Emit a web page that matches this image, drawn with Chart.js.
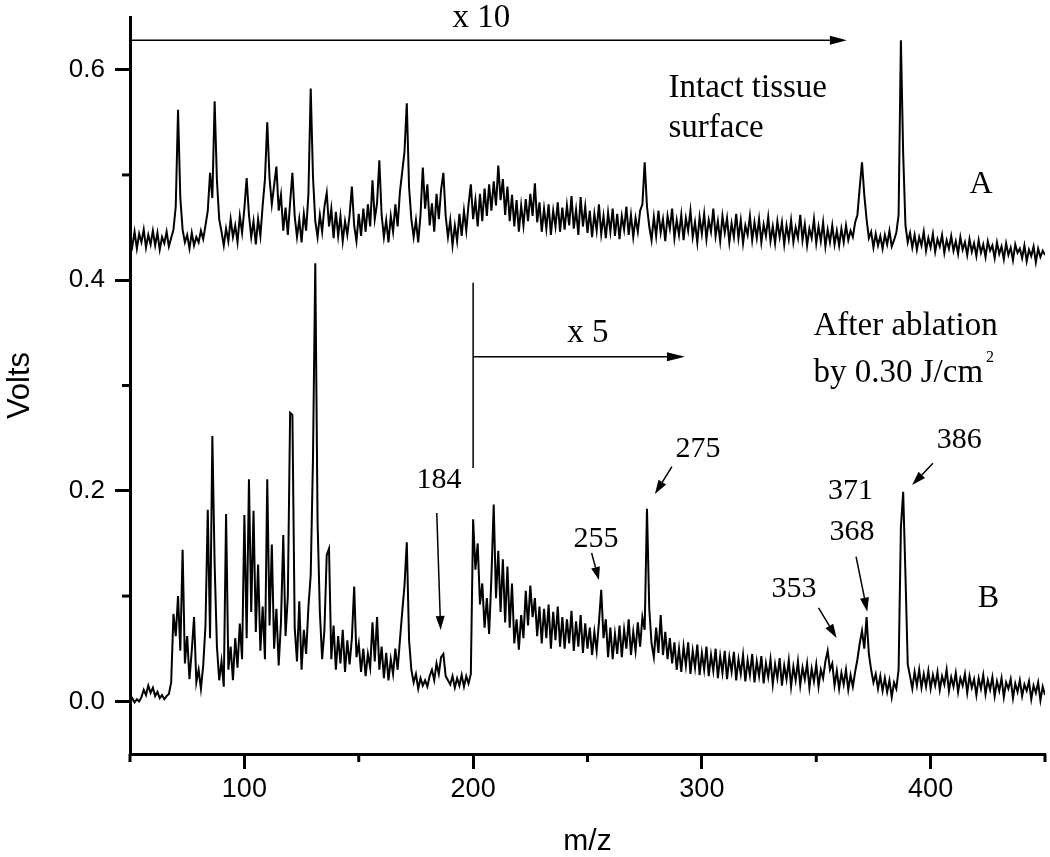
<!DOCTYPE html>
<html>
<head>
<meta charset="utf-8">
<script src="https://cdn.jsdelivr.net/npm/chart.js@4.4.1/dist/chart.umd.min.js"></script>
<style>
  html, body { margin: 0; padding: 0; background: #fff; }
  #caixa { width: 1050px; height: 857px; }
</style>
</head>
<body>
<div id="caixa"><canvas id="can-espectro"></canvas></div>
<script>
// ESPECTRO DE MASSA (A = superficie intacta x10, B = apos ablacao)

// um valor por unidade de m/z, comecando em m/z 50
const mzInicio = 50;

const tracoA = [
  0.441, 0.432, 0.446, 0.430, 0.444, 0.436, 0.448, 0.431, 0.443, 0.434, // 50
  0.447, 0.433, 0.445, 0.429, 0.441, 0.435, 0.446, 0.432, 0.440, 0.448, // 60
  0.470, 0.562, 0.478, 0.448, 0.436, 0.443, 0.430, 0.445, 0.433, 0.441, // 70
  0.436, 0.447, 0.439, 0.452, 0.466, 0.502, 0.478, 0.570, 0.495, 0.458, // 80
  0.446, 0.433, 0.449, 0.437, 0.458, 0.441, 0.452, 0.436, 0.461, 0.445, // 90
  0.468, 0.497, 0.462, 0.441, 0.456, 0.434, 0.458, 0.442, 0.471, 0.496, // 100
  0.550, 0.497, 0.472, 0.490, 0.508, 0.466, 0.481, 0.447, 0.469, 0.443, // 110
  0.474, 0.502, 0.461, 0.441, 0.458, 0.436, 0.463, 0.447, 0.482, 0.582, // 120
  0.498, 0.456, 0.441, 0.462, 0.446, 0.470, 0.483, 0.451, 0.468, 0.440, // 130
  0.465, 0.442, 0.461, 0.437, 0.456, 0.443, 0.462, 0.489, 0.452, 0.437, // 140
  0.463, 0.442, 0.468, 0.446, 0.472, 0.451, 0.495, 0.458, 0.473, 0.514, // 150
  0.462, 0.441, 0.457, 0.436, 0.461, 0.446, 0.472, 0.451, 0.484, 0.503, // 160
  0.522, 0.568, 0.488, 0.458, 0.441, 0.457, 0.436, 0.462, 0.507, 0.468, // 170
  0.491, 0.452, 0.473, 0.446, 0.482, 0.458, 0.486, 0.502, 0.461, 0.441, // 180
  0.457, 0.433, 0.452, 0.437, 0.463, 0.442, 0.466, 0.447, 0.472, 0.491, // 190
  0.458, 0.476, 0.451, 0.482, 0.456, 0.487, 0.461, 0.491, 0.466, 0.494, // 200
  0.471, 0.509, 0.476, 0.496, 0.462, 0.489, 0.456, 0.481, 0.451, 0.476, // 210
  0.446, 0.471, 0.452, 0.477, 0.456, 0.482, 0.461, 0.492, 0.455, 0.474, // 220
  0.446, 0.468, 0.449, 0.472, 0.443, 0.466, 0.451, 0.474, 0.446, 0.469, // 230
  0.448, 0.471, 0.452, 0.480, 0.449, 0.467, 0.443, 0.479, 0.451, 0.470, // 240
  0.445, 0.466, 0.441, 0.463, 0.447, 0.472, 0.444, 0.461, 0.440, 0.464, // 250
  0.446, 0.468, 0.442, 0.463, 0.439, 0.461, 0.448, 0.470, 0.443, 0.462, // 260
  0.441, 0.459, 0.446, 0.466, 0.472, 0.512, 0.470, 0.451, 0.438, 0.460, // 270
  0.442, 0.466, 0.445, 0.458, 0.437, 0.461, 0.449, 0.468, 0.440, 0.457, // 280
  0.443, 0.462, 0.438, 0.459, 0.447, 0.466, 0.441, 0.455, 0.436, 0.460, // 290
  0.444, 0.463, 0.439, 0.457, 0.446, 0.468, 0.442, 0.456, 0.437, 0.461, // 300
  0.445, 0.459, 0.436, 0.454, 0.441, 0.463, 0.440, 0.457, 0.435, 0.452, // 310
  0.443, 0.461, 0.438, 0.455, 0.440, 0.458, 0.436, 0.453, 0.442, 0.460, // 320
  0.437, 0.451, 0.435, 0.456, 0.441, 0.455, 0.434, 0.452, 0.439, 0.457, // 330
  0.436, 0.450, 0.440, 0.462, 0.438, 0.453, 0.433, 0.449, 0.440, 0.458, // 340
  0.435, 0.451, 0.437, 0.455, 0.432, 0.448, 0.436, 0.452, 0.434, 0.447, // 350
  0.433, 0.449, 0.436, 0.452, 0.438, 0.447, 0.441, 0.455, 0.462, 0.488, // 360
  0.512, 0.481, 0.458, 0.440, 0.446, 0.431, 0.444, 0.433, 0.442, 0.430, // 370
  0.443, 0.434, 0.447, 0.432, 0.438, 0.445, 0.462, 0.628, 0.520, 0.452, // 380
  0.436, 0.445, 0.431, 0.443, 0.429, 0.441, 0.433, 0.446, 0.428, 0.440, // 390
  0.431, 0.444, 0.427, 0.439, 0.432, 0.443, 0.426, 0.438, 0.430, 0.442, // 400
  0.428, 0.437, 0.425, 0.441, 0.429, 0.436, 0.424, 0.439, 0.427, 0.435, // 410
  0.423, 0.438, 0.426, 0.434, 0.422, 0.437, 0.428, 0.433, 0.421, 0.436, // 420
  0.425, 0.432, 0.420, 0.435, 0.424, 0.431, 0.419, 0.434, 0.426, 0.430, // 430
  0.421, 0.433, 0.418, 0.429, 0.423, 0.432, 0.417, 0.430, 0.422, 0.428, // 440
  0.424                                                                  // 450
];

const tracoB = [
  0.000, 0.003, -0.001, 0.002, 0.000, 0.004, 0.011, 0.006, 0.015, 0.008, // 50
  0.013, 0.005, 0.009, 0.003, 0.006, 0.002, 0.005, 0.007, 0.018, 0.083, // 60
  0.062, 0.100, 0.048, 0.144, 0.036, 0.062, 0.021, 0.048, 0.080, 0.018, // 70
  0.030, 0.012, 0.034, 0.072, 0.182, 0.060, 0.252, 0.130, 0.052, 0.020, // 80
  0.038, 0.014, 0.178, 0.030, 0.052, 0.020, 0.060, 0.032, 0.074, 0.040, // 90
  0.177, 0.060, 0.211, 0.085, 0.181, 0.066, 0.130, 0.048, 0.090, 0.040, // 100
  0.211, 0.072, 0.149, 0.050, 0.088, 0.034, 0.075, 0.158, 0.062, 0.100, // 110
  0.274, 0.272, 0.070, 0.038, 0.095, 0.030, 0.068, 0.045, 0.090, 0.120, // 120
  0.232, 0.416, 0.170, 0.085, 0.040, 0.068, 0.139, 0.145, 0.040, 0.072, // 130
  0.030, 0.062, 0.036, 0.068, 0.028, 0.058, 0.035, 0.060, 0.109, 0.042, // 140
  0.055, 0.028, 0.050, 0.024, 0.045, 0.032, 0.075, 0.038, 0.080, 0.030, // 150
  0.052, 0.022, 0.046, 0.020, 0.040, 0.026, 0.050, 0.030, 0.058, 0.085, // 160
  0.110, 0.151, 0.058, 0.030, 0.018, 0.026, 0.012, 0.022, 0.015, 0.020, // 170
  0.014, 0.024, 0.030, 0.020, 0.036, 0.026, 0.042, 0.045, 0.024, 0.020, // 180
  0.016, 0.024, 0.013, 0.022, 0.015, 0.025, 0.014, 0.024, 0.017, 0.026, // 190
  0.173, 0.125, 0.150, 0.092, 0.112, 0.070, 0.098, 0.064, 0.118, 0.187, // 200
  0.098, 0.143, 0.085, 0.135, 0.075, 0.128, 0.070, 0.112, 0.055, 0.078, // 210
  0.049, 0.082, 0.060, 0.105, 0.072, 0.110, 0.080, 0.098, 0.062, 0.090, // 220
  0.055, 0.088, 0.060, 0.092, 0.050, 0.085, 0.058, 0.090, 0.052, 0.080, // 230
  0.050, 0.078, 0.055, 0.086, 0.048, 0.076, 0.052, 0.082, 0.046, 0.074, // 240
  0.050, 0.070, 0.044, 0.066, 0.048, 0.075, 0.106, 0.060, 0.078, 0.042, // 250
  0.070, 0.040, 0.064, 0.045, 0.072, 0.042, 0.068, 0.050, 0.078, 0.044, // 260
  0.066, 0.048, 0.075, 0.052, 0.080, 0.068, 0.183, 0.088, 0.055, 0.042, // 270
  0.070, 0.046, 0.082, 0.044, 0.066, 0.040, 0.060, 0.036, 0.056, 0.030, // 280
  0.050, 0.028, 0.052, 0.034, 0.056, 0.026, 0.048, 0.032, 0.054, 0.025, // 290
  0.046, 0.030, 0.052, 0.024, 0.044, 0.029, 0.050, 0.022, 0.043, 0.027, // 300
  0.048, 0.021, 0.042, 0.028, 0.047, 0.020, 0.040, 0.026, 0.044, 0.019, // 310
  0.039, 0.025, 0.045, 0.018, 0.038, 0.024, 0.043, 0.017, 0.036, 0.023, // 320
  0.040, 0.016, 0.035, 0.022, 0.041, 0.015, 0.034, 0.021, 0.039, 0.014, // 330
  0.033, 0.020, 0.038, 0.015, 0.032, 0.021, 0.036, 0.013, 0.031, 0.019, // 340
  0.035, 0.014, 0.030, 0.022, 0.038, 0.048, 0.030, 0.036, 0.015, 0.029, // 350
  0.012, 0.027, 0.016, 0.030, 0.011, 0.025, 0.014, 0.028, 0.040, 0.055, // 360
  0.067, 0.050, 0.080, 0.045, 0.030, 0.018, 0.026, 0.012, 0.024, 0.010, // 370
  0.022, 0.009, 0.020, 0.004, 0.018, 0.012, 0.030, 0.165, 0.199, 0.120, // 380
  0.035, 0.024, 0.012, 0.028, 0.015, 0.030, 0.013, 0.026, 0.014, 0.029, // 390
  0.012, 0.025, 0.015, 0.028, 0.011, 0.024, 0.016, 0.030, 0.010, 0.023, // 400
  0.014, 0.027, 0.009, 0.022, 0.015, 0.026, 0.008, 0.024, 0.013, 0.021, // 410
  0.006, 0.022, 0.012, 0.025, 0.007, 0.020, 0.011, 0.023, 0.005, 0.019, // 420
  0.010, 0.022, 0.004, 0.018, 0.012, 0.021, 0.003, 0.017, 0.009, 0.020, // 430
  0.005, 0.016, 0.010, 0.019, 0.002, 0.015, 0.008, 0.018, 0.001, 0.014, // 440
  0.006                                                                  // 450
];

const ticksX = [100, 200, 300, 400];
const ticksXMenores = [50, 150, 250, 350, 450];
const ticksY = [0, 0.2, 0.4, 0.6];
const ticksYMenores = [0.1, 0.3, 0.5];

// textos e setas em coordenadas do grafico (m/z, volts)
const textos = [
  { t: 'x 10', x: 203.6, y: 0.6405, alinha: 'center', tam: 33 },
  { t: 'Intact tissue', x: 285.4, y: 0.574, alinha: 'left', tam: 33 },
  { t: 'surface', x: 285.4, y: 0.536, alinha: 'left', tam: 33 },
  { t: 'A', x: 417.0, y: 0.483, alinha: 'left', tam: 32 },
  { t: 'x 5', x: 250.2, y: 0.3413, alinha: 'center', tam: 33 },
  { t: 'After ablation', x: 348.8, y: 0.348, alinha: 'left', tam: 33 },
  { t: 'by 0.30 J/cm', x: 348.8, y: 0.3033, alinha: 'left', tam: 33, sobre: '2' },
  { t: '184', x: 185.1, y: 0.2026, alinha: 'center', tam: 30 },
  { t: '255', x: 253.7, y: 0.1466, alinha: 'center', tam: 30 },
  { t: '275', x: 298.3, y: 0.2321, alinha: 'center', tam: 30 },
  { t: '353', x: 340.3, y: 0.0991, alinha: 'center', tam: 30 },
  { t: '371', x: 365.0, y: 0.1922, alinha: 'center', tam: 30 },
  { t: '368', x: 365.6, y: 0.1533, alinha: 'center', tam: 30 },
  { t: '386', x: 412.5, y: 0.2406, alinha: 'center', tam: 30 },
  { t: 'B', x: 420.6, y: 0.0896, alinha: 'left', tam: 32 }
];

const setas = [
  { x1: 50, y1: 0.628, x2: 363.4, y2: 0.628, ponta: 17, meia: 4.5 },
  { x1: 200, y1: 0.3976, x2: 200, y2: 0.2216, ponta: 0, meia: 0 },
  { x1: 200, y1: 0.3274, x2: 292.6, y2: 0.3274, ponta: 18, meia: 4.5 },
  { x1: 184.1, y1: 0.1789, x2: 185.8, y2: 0.0678, ponta: 14, meia: 4.5 },
  { x1: 251.8, y1: 0.1409, x2: 255.0, y2: 0.1153, ponta: 13, meia: 4.5 },
  { x1: 286.9, y1: 0.2229, x2: 279.5, y2: 0.1969, ponta: 14, meia: 4.5 },
  { x1: 351.0, y1: 0.0887, x2: 358.9, y2: 0.0602, ponta: 14, meia: 4.5 },
  { x1: 367.4, y1: 0.1374, x2: 372.3, y2: 0.0852, ponta: 14, meia: 4.5 },
  { x1: 401.0, y1: 0.2261, x2: 391.9, y2: 0.2055, ponta: 14, meia: 4.5 }
];

const fonteSans = "'Liberation Sans', Arial, sans-serif";
const fonteSerif = "'Liberation Serif', 'Times New Roman', serif";

function pontos(valores) {
  return valores.map((v, i) => ({ x: mzInicio + i, y: v }));
}

function desenhaSeta(ctx, x1, y1, x2, y2, ponta, meia) {
  const ang = Math.atan2(y2 - y1, x2 - x1);
  const bx = x2 - ponta * Math.cos(ang);
  const by = y2 - ponta * Math.sin(ang);
  ctx.beginPath();
  ctx.moveTo(x1, y1);
  ctx.lineTo(ponta ? bx : x2, ponta ? by : y2);
  ctx.stroke();
  if (!ponta) return;
  ctx.beginPath();
  ctx.moveTo(x2, y2);
  ctx.lineTo(bx + meia * Math.sin(ang), by - meia * Math.cos(ang));
  ctx.lineTo(bx - meia * Math.sin(ang), by + meia * Math.cos(ang));
  ctx.closePath();
  ctx.fill();
}

// ticks menores e anotacoes
const pluginAnotacoes = {
  id: 'anotacoes',
  afterDraw(chart) {
    const { ctx, scales: { x, y } } = chart;
    ctx.save();
    ctx.strokeStyle = '#000';
    ctx.fillStyle = '#000';

    ctx.lineWidth = 3;
    ticksXMenores.forEach(v => {
      const px = x.getPixelForValue(v);
      ctx.beginPath();
      ctx.moveTo(px, x.top);
      ctx.lineTo(px, x.top + 8);
      ctx.stroke();
    });
    ticksYMenores.forEach(v => {
      const py = y.getPixelForValue(v);
      ctx.beginPath();
      ctx.moveTo(y.right - 8, py);
      ctx.lineTo(y.right, py);
      ctx.stroke();
    });

    ctx.lineWidth = 1.5;
    setas.forEach(s => {
      desenhaSeta(ctx,
        x.getPixelForValue(s.x1), y.getPixelForValue(s.y1),
        x.getPixelForValue(s.x2), y.getPixelForValue(s.y2),
        s.ponta, s.meia);
    });

    ctx.textBaseline = 'alphabetic';
    textos.forEach(t => {
      const px = x.getPixelForValue(t.x);
      const py = y.getPixelForValue(t.y);
      ctx.font = t.tam + 'px ' + fonteSerif;
      ctx.textAlign = t.alinha;
      ctx.fillText(t.t, px, py);
      if (t.sobre) {
        const w = ctx.measureText(t.t).width;
        ctx.font = '16px ' + fonteSerif;
        ctx.textAlign = 'left';
        ctx.fillText(t.sobre, px + w + 3, py - 20);
      }
    });
    ctx.restore();
  }
};

const canvasEspectro = document.getElementById('can-espectro');

const chartEspectro = new Chart(canvasEspectro, {
  type: 'line',
  data: {
    datasets: [
      {
        label: 'A',
        data: pontos(tracoA),
        borderColor: '#000',
        borderWidth: 2,
        pointRadius: 0,
        tension: 0
      },
      {
        label: 'B',
        data: pontos(tracoB),
        borderColor: '#000',
        borderWidth: 2,
        pointRadius: 0,
        tension: 0
      }
    ]
  },
  options: {
    responsive: true,
    maintainAspectRatio: false,
    animation: false,
    layout: { padding: { top: 17, right: 5, left: 0, bottom: 0 } },
    plugins: {
      legend: { display: false },
      tooltip: { enabled: false }
    },
    scales: {
      x: {
        type: 'linear',
        min: 50,
        max: 450,
        afterBuildTicks: scale => { scale.ticks = ticksX.map(v => ({ value: v })); },
        afterFit: scale => {
          scale.height = 103;
          scale.paddingLeft = 0;
          scale.paddingRight = 0;
        },
        border: { display: true, color: '#000', width: 3 },
        grid: { drawOnChartArea: false, drawTicks: true, tickLength: 15, tickWidth: 3, tickColor: '#000' },
        ticks: {
          color: '#000',
          padding: 4,
          maxRotation: 0,
          font: { family: fonteSans, size: 27 },
          callback: v => String(v)
        },
        title: {
          display: true,
          text: 'm/z',
          color: '#000',
          font: { family: fonteSans, size: 30, lineHeight: 1 },
          padding: { top: 0, bottom: 0 }
        }
      },
      y: {
        type: 'linear',
        min: -0.05,
        max: 0.65,
        afterBuildTicks: scale => { scale.ticks = ticksY.map(v => ({ value: v })); },
        afterFit: scale => {
          scale.width = 130;
          scale.paddingTop = 0;
          scale.paddingBottom = 0;
        },
        border: { display: true, color: '#000', width: 3 },
        grid: { drawOnChartArea: false, drawTicks: true, tickLength: 15, tickWidth: 3, tickColor: '#000' },
        ticks: {
          color: '#000',
          padding: 10,
          font: { family: fonteSans, size: 26 },
          callback: v => Number(v).toFixed(1)
        },
        title: {
          display: true,
          text: 'Volts',
          color: '#000',
          font: { family: fonteSans, size: 31, lineHeight: 1 },
          padding: { top: 5, bottom: 0 }
        }
      }
    }
  },
  plugins: [pluginAnotacoes]
});
</script>
</body>
</html>
